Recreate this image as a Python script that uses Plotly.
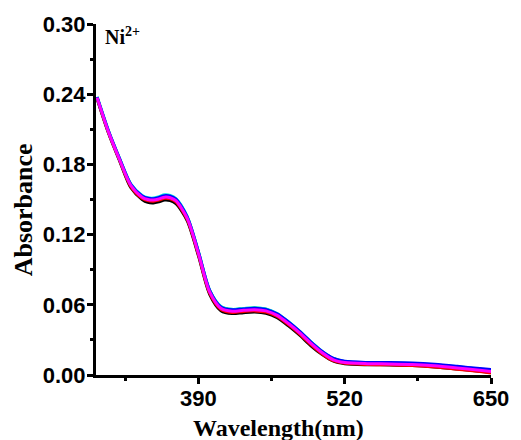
import plotly.graph_objects as go

wavelength = [300, 310, 320, 330, 340, 345, 350, 355, 360, 365, 370, 380, 390, 400,
              410, 420, 430, 440, 450, 460, 470, 480, 490, 500, 510, 520, 540, 560,
              580, 600, 620, 640, 650]

abs_black = [.236, .207, .183, .160, .150, .1475, .147, .148, .1495, .149, .1465, .132, .102, .069,
             .055, .0525, .0533, .0538, .0528, .049, .042, .034, .025, .0175, .0118, .0097, .0088, .0086,
             .0081, .0069, .0051, .0031, .0021]
abs_red = [.2365, .2075, .1835, .161, .151, .149, .1485, .1495, .151, .1505, .148, .133, .103, .070,
           .056, .0535, .0543, .0548, .0538, .050, .043, .035, .026, .018, .0122, .0100, .0090, .0087,
           .0082, .0068, .0050, .0030, .0018]
abs_green = [.2372, .2085, .1845, .1625, .1528, .1508, .1505, .1516, .1532, .1527, .1502, .1350, .1050, .0720,
             .0583, .0559, .0567, .0573, .0563, .0522, .0451, .0370, .0280, .0199, .0139, .0114, .0103, .0101,
             .0097, .0086, .0069, .0050, .0041]
abs_cyan = [.2378, .2090, .1850, .1632, .1535, .1515, .1512, .1524, .1540, .1535, .1508, .1356, .1055, .0725,
            .0586, .0561, .0569, .0575, .0565, .0526, .0455, .0373, .0283, .0202, .0141, .0116, .0105, .0103,
            .0099, .0088, .0071, .0052, .0043]
abs_blue = [.2375, .2088, .1848, .1628, .153, .151, .1507, .1518, .1533, .1528, .1503, .1352, .1052, .0722,
            .0582, .0557, .0565, .0571, .0561, .0523, .0453, .0372, .0282, .0201, .0141, .0117, .0107, .0106,
            .0102, .0091, .0074, .0055, .0046]
abs_magenta = [.237, .208, .184, .162, .152, .150, .1495, .1505, .152, .1515, .149, .134, .104, .071,
               .057, .0545, .0553, .0558, .0548, .051, .044, .036, .027, .019, .013, .0107, .0097, .0095,
               .0090, .0078, .0060, .0040, .0030]

series = [
    ("black", abs_black),
    ("red", abs_red),
    ("#00c000", abs_green),
    ("#00e0e0", abs_cyan),
    ("blue", abs_blue),
    ("magenta", abs_magenta),
]

y_ticks = [0.00, 0.06, 0.12, 0.18, 0.24, 0.30]
x_ticks = [390, 520, 650]

fig = go.Figure()
for color, vals in series:
    fig.add_trace(go.Scatter(x=wavelength, y=vals, mode="lines",
                             line=dict(color=color, width=3, shape="spline", smoothing=0.8),
                             showlegend=False, hoverinfo="skip"))

tickfont = dict(family="Liberation Sans", size=22, color="black", weight="bold")

fig.update_layout(
    width=521, height=440,
    margin=dict(l=96, r=24, t=24, b=65),
    paper_bgcolor="white", plot_bgcolor="white",
    xaxis=dict(range=[299, 650], tickvals=x_ticks, ticktext=[str(v) for v in x_ticks],
               showgrid=False, zeroline=False, showline=True, linecolor="black", linewidth=3,
               ticks="outside", ticklen=6, tickwidth=2.5, tickcolor="black", tickfont=tickfont,
               ticklabelstandoff=-4,
               minor=dict(ticks="outside", ticklen=3, tickwidth=2.5, tickcolor="black",
                          tickvals=[325, 455, 585])),
    yaxis=dict(range=[0, 0.30], tickvals=y_ticks, ticktext=["%.2f" % v for v in y_ticks],
               showgrid=False, zeroline=False, showline=True, linecolor="black", linewidth=3,
               ticks="outside", ticklen=6, tickwidth=2.5, tickcolor="black", tickfont=tickfont,
               ticklabelstandoff=-3,
               minor=dict(ticks="outside", ticklen=3, tickwidth=2.5, tickcolor="black",
                          tickvals=[0.03, 0.09, 0.15, 0.21, 0.27])),
    annotations=[
        dict(text="Absorbance", xref="paper", yref="paper", x=-0.184, y=0.47,
             textangle=-90, showarrow=False, xanchor="center", yanchor="middle",
             font=dict(family="Liberation Serif", size=26, color="black", weight="bold")),
        dict(text="Wavelength(nm)", xref="paper", yref="paper", x=0.461, y=-0.152,
             showarrow=False, xanchor="center", yanchor="middle",
             font=dict(family="Liberation Serif", size=24, color="black", weight="bold")),
        dict(text="Ni<sup>2+</sup>", xref="paper", yref="paper", x=0.018, y=0.965,
             showarrow=False, xanchor="left", yanchor="middle",
             font=dict(family="Liberation Serif", size=20, color="black", weight="bold")),
    ],
)

fig.write_html("out.html")
